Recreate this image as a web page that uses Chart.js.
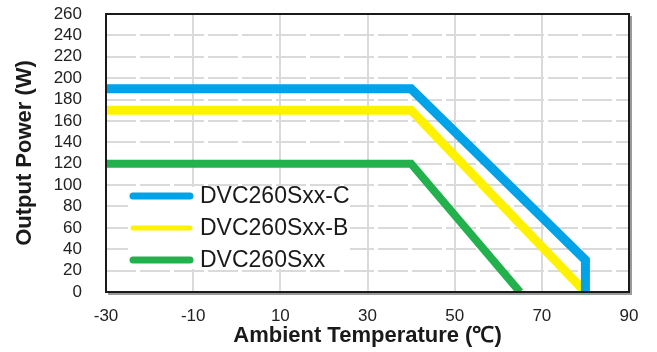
<!DOCTYPE html>
<html>
<head>
<meta charset="utf-8">
<script src="https://cdn.jsdelivr.net/npm/chart.js@4"></script>
<style>
  html, body { margin: 0; padding: 0; background: #fff; }
  #wrap { width: 657px; height: 352px; position: relative; }
</style>
</head>
<body>
<div id="wrap"><canvas id="deratingChart"></canvas></div>
<script>
// derating curves
const tempC = [-30, 40, 80, 80];
const powerC = [190, 190, 30, 0];
const tempB = [-30, 40, 80];
const powerB = [170, 170, 0];
const tempStd = [-30, 40, 65];
const powerStd = [120, 120, 0];

const seriesNames = ["DVC260Sxx-C", "DVC260Sxx-B", "DVC260Sxx"];
const seriesColors = ["#00a2e8", "#fff200", "#22b14c"];

const xTicks = [-30, -10, 10, 30, 50, 70, 90];
const yTicks = [0, 20, 40, 60, 80, 100, 120, 140, 160, 180, 200, 220, 240, 260];

const FONT = '"Liberation Sans", Arial, sans-serif';

function toPoints(xs, ys) {
  return xs.map((x, i) => ({ x: x, y: ys[i] }));
}

// box round the plot + legend inside it
const frameAndLegend = {
  id: "frameAndLegend",
  afterDatasetsDraw(chart) {
    const ctx = chart.ctx;
    const a = chart.chartArea;
    ctx.save();
    // white legend box
    const lx = a.left + 22, ly = a.top + 173;
    ctx.fillStyle = "#fff";
    ctx.fillRect(lx, ly, 222, 82);
    const widths = [7, 5, 7];
    ctx.font = "23px " + FONT;
    ctx.textBaseline = "middle";
    for (let i = 0; i < seriesNames.length; i++) {
      const y = a.top + 182 + i * 32;
      ctx.strokeStyle = seriesColors[i];
      ctx.lineWidth = widths[i];
      ctx.lineCap = "round";
      ctx.beginPath();
      ctx.moveTo(a.left + 27, y);
      ctx.lineTo(a.left + 84, y);
      ctx.stroke();
      ctx.fillStyle = "#1a1a1a";
      ctx.fillText(seriesNames[i], a.left + 94, y + 1);
    }
    // shadow then frame
    ctx.lineCap = "butt";
    ctx.strokeStyle = "#9a9a9a";
    ctx.lineWidth = 2;
    ctx.beginPath();
    ctx.moveTo(a.left + 2, a.bottom + 2);
    ctx.lineTo(a.right + 2, a.bottom + 2);
    ctx.lineTo(a.right + 2, a.top + 2);
    ctx.stroke();
    ctx.strokeStyle = "#1a1a1a";
    ctx.strokeRect(a.left, a.top, a.right - a.left, a.bottom - a.top);
    ctx.restore();
  },
};

const ctx = document.getElementById("deratingChart").getContext("2d");
new Chart(ctx, {
  type: "line",
  data: {
    datasets: [
      {
        label: seriesNames[0],
        data: toPoints(tempC, powerC),
        borderColor: seriesColors[0],
        borderWidth: 9,
      },
      {
        label: seriesNames[1],
        data: toPoints(tempB, powerB),
        borderColor: seriesColors[1],
        borderWidth: 9,
      },
      {
        label: seriesNames[2],
        data: toPoints(tempStd, powerStd),
        borderColor: seriesColors[2],
        borderWidth: 8,
      },
    ],
  },
  options: {
    responsive: true,
    maintainAspectRatio: false,
    animation: false,
    layout: { padding: { top: 14, right: 28, left: 0, bottom: 0 } },
    elements: {
      point: { radius: 0 },
      line: { tension: 0, borderJoinStyle: "miter", borderCapStyle: "butt" },
    },
    plugins: {
      legend: { display: false },
      tooltip: { enabled: false },
    },
    scales: {
      x: {
        type: "linear",
        min: xTicks[0],
        max: xTicks[xTicks.length - 1],
        afterBuildTicks: (scale) => {
          scale.ticks = xTicks.map((v) => ({ value: v }));
        },
        afterFit: (scale) => {
          scale.height = 60;
          scale.paddingLeft = 0;
          scale.paddingRight = 0;
        },
        ticks: {
          color: "#222",
          padding: 14,
          maxRotation: 0,
          autoSkip: false,
          font: { family: FONT, size: 17 },
        },
        grid: { color: "#dadada", lineWidth: 2, drawTicks: false },
        border: { display: false },
        title: {
          display: true,
          text: "Ambient Temperature (℃)",
          color: "#1a1a1a",
          padding: { top: 0, bottom: 3 },
          font: { family: FONT, size: 22, weight: "bold" },
        },
      },
      y: {
        min: yTicks[0],
        max: yTicks[yTicks.length - 1],
        afterBuildTicks: (scale) => {
          scale.ticks = yTicks.map((v) => ({ value: v }));
        },
        afterFit: (scale) => {
          scale.width = 106;
          scale.paddingTop = 0;
          scale.paddingBottom = 0;
        },
        ticks: {
          color: "#222",
          padding: 24,
          autoSkip: false,
          font: { family: FONT, size: 17 },
        },
        grid: { color: "#dadada", lineWidth: 2, drawTicks: false },
        border: { display: false, dash: [30, 4] },
        title: {
          display: true,
          text: "Output Power (W)",
          color: "#1a1a1a",
          padding: { top: 12, bottom: 0 },
          font: { family: FONT, size: 22, weight: "bold" },
        },
      },
    },
  },
  plugins: [frameAndLegend],
});
</script>
</body>
</html>
